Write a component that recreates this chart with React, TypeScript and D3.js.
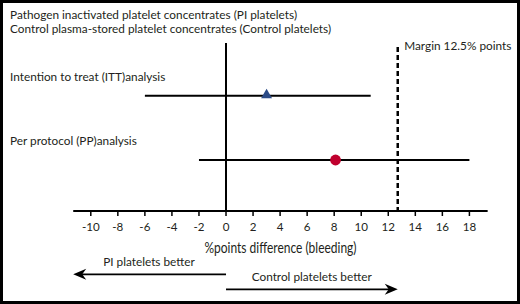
import React from "react";
import * as d3 from "d3";

const titleLines = [
  "Pathogen inactivated platelet concentrates (PI platelets)",
  "Control plasma-stored platelet concentrates (Control platelets)",
];
const categories = ["Intention to treat (ITT)analysis", "Per protocol (PP)analysis"];
const estimates = [3.0, 8.1];
const lowerCI = [-6.0, -2.0];
const upperCI = [10.7, 18.0];
const markerShapes = ["triangle", "circle"];
const markerColors = ["#2b4a86", "#c0002e"];
const tickValues = [-10, -8, -6, -4, -2, 0, 2, 4, 6, 8, 10, 12, 14, 16, 18];
const marginLabel = "Margin 12.5% points";
const marginPosition = 12.7;
const axisTitle = "%points difference (bleeding)";
const leftArrowLabel = "PI platelets better";
const rightArrowLabel = "Control platelets better";

const W = 520;
const H = 304;
const FONT = "Lato, 'Open Sans', sans-serif";
const FS = 11.8;
const TXT = "#231f20";

export default function App() {
  const x = d3.scaleLinear().domain([-10, 18]).range([90.8, 469.4]);
  const y = d3.scalePoint<string>().domain(categories).range([95.7, 160]);
  const axisY = 211;
  const axisStart = x(-11.3);
  const axisEnd = x(19.35);
  const tri = d3.symbol().type(d3.symbolTriangle).size(52)();

  const leftTip = x(-11.3);
  const rightTip = x(marginPosition);
  const arrowY1 = 274.3;
  const arrowY2 = 289.3;

  return (
    <svg
      width={W}
      height={H}
      style={{ position: "absolute", left: 0, top: 0, background: "#fff" }}
      fontFamily={FONT}
    >
      <rect x={1.5} y={1.5} width={W - 3} height={H - 3} fill="#fff" stroke="#000" strokeWidth={3} />
      {titleLines.map((t, i) => (
        <text key={t} x={10} y={18.7 + i * 13.8} fontSize={FS} fill={TXT}>
          {t}
        </text>
      ))}
      {/* zero line */}
      <line x1={x(0)} x2={x(0)} y1={43} y2={axisY} stroke="#000" strokeWidth={2} />
      {/* margin line */}
      <line
        x1={x(marginPosition)}
        x2={x(marginPosition)}
        y1={47}
        y2={axisY}
        stroke="#000"
        strokeWidth={2.5}
        strokeDasharray="5,3"
      />
      <text x={x(marginPosition) + 6.5} y={50} fontSize={FS} fill={TXT}>
        {marginLabel}
      </text>
      {categories.map((c, i) => {
        const cy = y(c) as number;
        return (
          <g key={c}>
            <text x={10} y={cy - 15} fontSize={FS} fill={TXT}>
              {c}
            </text>
            <line x1={x(lowerCI[i])} x2={x(upperCI[i])} y1={cy} y2={cy} stroke="#000" strokeWidth={2} />
            {markerShapes[i] === "triangle" ? (
              <path d={tri as string} transform={`translate(${x(estimates[i])},${cy - 0.5})`} fill={markerColors[i]} />
            ) : (
              <circle cx={x(estimates[i])} cy={cy} r={5.4} fill={markerColors[i]} />
            )}
          </g>
        );
      })}
      {/* axis */}
      <line x1={axisStart} x2={axisEnd} y1={axisY} y2={axisY} stroke="#000" strokeWidth={2} />
      {tickValues.map((v) => (
        <g key={v}>
          <line x1={x(v)} x2={x(v)} y1={axisY} y2={axisY + 5} stroke="#000" strokeWidth={1.5} />
          <text x={x(v)} y={231} fontSize={11.6} textAnchor="middle" fill={TXT}>
            {v}
          </text>
        </g>
      ))}
      <text
        x={280.5}
        y={252.5}
        fontSize={15}
        textAnchor="middle"
        fill={TXT}
        textLength={152}
        lengthAdjust="spacingAndGlyphs"
      >
        {axisTitle}
      </text>
      {/* arrows */}
      <line x1={x(0)} x2={leftTip + 8} y1={arrowY1} y2={arrowY1} stroke="#000" strokeWidth={1.8} />
      <path
        d={`M${leftTip},${arrowY1} L${leftTip + 13},${arrowY1 - 5.5} L${leftTip + 9},${arrowY1} L${leftTip + 13},${arrowY1 + 5.5} Z`}
        fill="#000"
      />
      <text x={149} y={266} fontSize={FS} textAnchor="middle" fill={TXT}>
        {leftArrowLabel}
      </text>
      <line x1={x(0)} x2={rightTip - 8} y1={arrowY2} y2={arrowY2} stroke="#000" strokeWidth={1.8} />
      <path
        d={`M${rightTip},${arrowY2} L${rightTip - 13},${arrowY2 - 5.5} L${rightTip - 9},${arrowY2} L${rightTip - 13},${arrowY2 + 5.5} Z`}
        fill="#000"
      />
      <text x={311.7} y={281} fontSize={FS} textAnchor="middle" fill={TXT}>
        {rightArrowLabel}
      </text>
    </svg>
  );
}
